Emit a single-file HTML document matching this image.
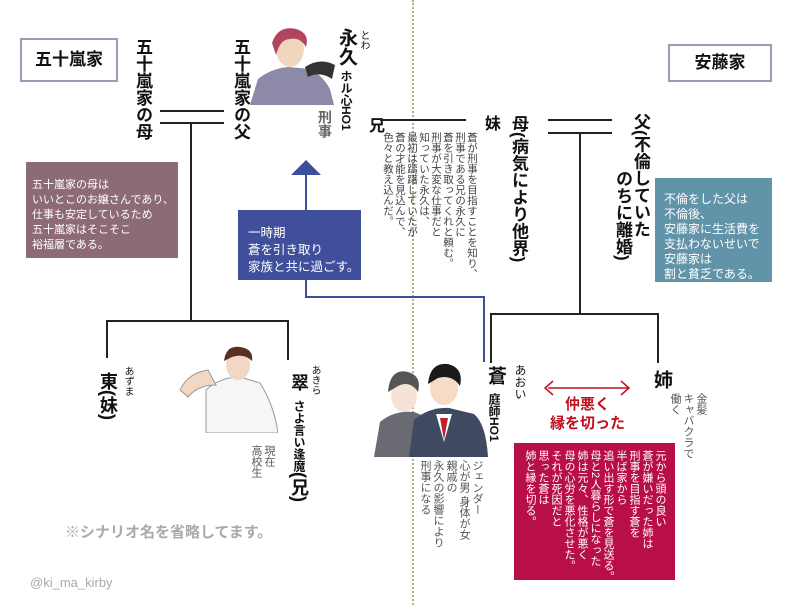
<!DOCTYPE html>
<html><head><meta charset="utf-8">
<style>
body{margin:0;width:799px;height:605px;background:#fff;position:relative;overflow:hidden;font-family:"Liberation Sans","Noto Sans CJK JP",sans-serif;}
.a{position:absolute;}
.v{position:absolute;writing-mode:vertical-rl;text-orientation:mixed;white-space:nowrap;}
.ln{position:absolute;background:#222;}
.b{font-weight:bold;color:#111;}
.box{position:absolute;color:#fff;}
</style></head><body>

<div class="a" style="left:412px;top:0;width:0;height:605px;border-left:2px dotted #b5ad86"></div>

<div class="a" style="left:20px;top:38px;width:94px;height:40px;border:2px solid #9c9ab4;font-size:17px;font-weight:bold;line-height:40px;text-align:center;color:#111">五十嵐家</div>
<div class="a" style="left:668px;top:44px;width:100px;height:34px;border:2px solid #9c9ab4;font-size:17px;font-weight:bold;line-height:34px;text-align:center;color:#111">安藤家</div>

<div class="v b" style="left:132px;top:38px;font-size:17px;line-height:20px">五十嵐家の母</div>
<div class="v b" style="left:230px;top:38px;font-size:17px;line-height:20px">五十嵐家の父</div>
<div class="ln" style="left:160px;top:110px;width:64px;height:2px"></div>
<div class="ln" style="left:160px;top:122px;width:64px;height:2px"></div>
<div class="ln" style="left:190px;top:123px;width:2px;height:198px"></div>
<div class="ln" style="left:106px;top:320px;width:183px;height:2px"></div>
<div class="ln" style="left:106px;top:320px;width:2px;height:38px"></div>
<div class="ln" style="left:287px;top:320px;width:2px;height:40px"></div>

<div class="box" style="left:26px;top:162px;width:152px;height:96px;background:#8c6b75;font-size:11px;line-height:15px;padding:16px 0 0 6px;box-sizing:border-box;white-space:nowrap">五十嵐家の母は<br>いいとこのお嬢さんであり、<br>仕事も安定しているため<br>五十嵐家はそこそこ<br>裕福層である。</div>

<svg class="a" style="left:250px;top:27px" width="85" height="78">
<path d="M0 78 L8 52 Q20 42 38 40 L60 42 Q72 48 80 62 L84 78Z" fill="#8c8aa8"/>
<ellipse cx="40" cy="22" rx="14" ry="18" fill="#f1d6bf"/>
<path d="M22 16 Q28 -2 46 2 Q60 6 56 20 Q50 10 40 12 Q30 12 26 28Z" fill="#b04560"/>
<path d="M55 40 Q70 30 85 38 L82 52 Q70 44 58 50Z" fill="#333"/>
</svg>
<div class="v b" style="left:336px;top:28px;font-size:19px;line-height:20px">永久</div>
<div class="v" style="left:356px;top:30px;font-size:10px;color:#111">とわ</div>
<div class="v" style="left:338px;top:70px;font-size:12px;font-weight:bold;color:#111">ホル心HO1</div>
<div class="v" style="left:315px;top:110px;font-size:14px;font-weight:bold;color:#666">刑事</div>

<div class="v b" style="left:362px;top:117px;font-size:16px">兄</div>
<div class="ln" style="left:380px;top:119px;width:86px;height:2px"></div>
<div class="v b" style="left:478px;top:115px;font-size:16px">妹</div>
<div class="v" style="left:382px;top:132px;font-size:10.5px;line-height:12px;color:#444">蒼が刑事を目指すことを知り、<br>刑事である兄の永久に<br>蒼を引き取ってくれと頼む。<br>刑事が大変な仕事だと<br>知っていた永久は、<br>最初は躊躇していたが<br>蒼の才能を見込んで、<br>色々と教え込んだ。</div>

<svg class="a" style="left:0;top:0" width="799" height="605">
<polygon points="306,160 291,175 321,175" fill="#3c4d99"/>
<line x1="306" y1="175" x2="306" y2="210" stroke="#3c4d99" stroke-width="2"/>
<polyline points="306,280 306,297 484,297 484,362" fill="none" stroke="#3c4d99" stroke-width="2"/>
<line x1="548" y1="388" x2="628" y2="388" stroke="#c0101e" stroke-width="1.5"/>
<polyline points="553,381 545,388 553,395" fill="none" stroke="#c0101e" stroke-width="1.5"/>
<polyline points="621,381 629,388 621,395" fill="none" stroke="#c0101e" stroke-width="1.5"/>
</svg>
<div class="box" style="left:238px;top:210px;width:123px;height:70px;background:#3f4f9b;font-size:12.5px;line-height:17px;padding:15px 0 0 10px;box-sizing:border-box">一時期<br>蒼を引き取り<br>家族と共に過ごす。</div>

<div class="v b" style="left:508px;top:115px;font-size:17px;line-height:20px">母(病気により他界)</div>
<div class="ln" style="left:548px;top:119px;width:64px;height:2px"></div>
<div class="ln" style="left:548px;top:132px;width:64px;height:2px"></div>
<div class="ln" style="left:579px;top:133px;width:2px;height:181px"></div>
<div class="ln" style="left:490px;top:313px;width:169px;height:2px"></div>
<div class="ln" style="left:490px;top:313px;width:2px;height:50px"></div>
<div class="ln" style="left:657px;top:313px;width:2px;height:50px"></div>
<div class="v b" style="left:630px;top:113px;font-size:17px;line-height:20px">父(不倫していた</div>
<div class="v b" style="left:612px;top:170px;font-size:17px;line-height:20px">のちに離婚)</div>

<div class="box" style="left:655px;top:178px;width:117px;height:104px;background:#6294a9;font-size:12px;line-height:15px;padding:14px 0 0 9px;box-sizing:border-box">不倫をした父は<br>不倫後、<br>安藤家に生活費を<br>支払わないせいで<br>安藤家は<br>割と貧乏である。</div>

<svg class="a" style="left:374px;top:362px" width="115" height="95">
<path d="M0 95 L6 60 Q20 48 40 50 L60 58 L64 95Z" fill="#6a6a72"/>
<ellipse cx="30" cy="34" rx="13" ry="16" fill="#f4e3d6"/>
<path d="M14 30 Q16 6 34 10 Q48 14 44 30 Q36 18 24 24Z" fill="#555"/>
<path d="M35 95 L40 58 Q55 45 75 46 L100 52 Q112 62 114 95Z" fill="#3f4a60"/>
<path d="M62 52 L70 80 L78 52Z" fill="#fff"/>
<path d="M66 56 L70 78 L74 56Z" fill="#c0202a"/>
<ellipse cx="70" cy="26" rx="14" ry="17" fill="#f6dcc6"/>
<path d="M54 22 Q56 0 74 2 Q90 6 86 24 Q78 12 64 16Z" fill="#1a1a1a"/>
</svg>
<div class="v b" style="left:482px;top:366px;font-size:19px">蒼</div>
<div class="v" style="left:486px;top:393px;font-size:12px;font-weight:bold;color:#111">庭師HO1</div>
<div class="v" style="left:512px;top:364px;font-size:12px;color:#111">あおい</div>
<div class="v" style="left:418px;top:460px;font-size:11px;line-height:13px;color:#555">ジェンダー<br>心が男 身体が女<br>親戚の<br>永久の影響により<br>刑事になる</div>

<div class="a" style="left:540px;top:395px;width:95px;text-align:center;color:#c0101e;font-size:15px;font-weight:bold;line-height:19px">仲悪く<br>縁を切った</div>

<div class="v b" style="left:648px;top:370px;font-size:19px">姉</div>
<div class="v" style="left:668px;top:393px;font-size:11px;line-height:13px;color:#555">金髪<br>キャバクラで<br>働く</div>

<div class="box" style="left:514px;top:443px;width:161px;height:137px;background:#b90f47"></div>
<div class="v" style="left:525px;top:450px;width:141px;font-size:11px;line-height:13px;color:#fff">元から頭の良い<br>蒼が嫌いだった姉は<br>刑事を目指す蒼を<br>半ば家から<br>追い出す形で蒼を見送る。<br>母と2人暮らしになった<br>姉は元々、性格が悪く<br>母の心労を悪化させた。<br>それが死因だと<br>思った蒼は<br>姉と縁を切る。</div>

<div class="v b" style="left:98px;top:372px;font-size:18px;line-height:20px">東(妹)</div>
<div class="v" style="left:120px;top:366px;font-size:10px;color:#111">あずま</div>

<svg class="a" style="left:178px;top:345px" width="100" height="88">
<path d="M28 88 L28 45 Q42 32 62 32 L82 38 Q96 60 100 88Z" fill="#f6f6f6" stroke="#999"/>
<path d="M2 45 Q10 28 30 25 L38 40 Q20 40 10 52Z" fill="#f2d8c2" stroke="#999"/>
<ellipse cx="60" cy="20" rx="12" ry="15" fill="#f2d8c2"/>
<path d="M46 16 Q48 0 62 2 Q76 4 74 16 Q66 8 54 12Z" fill="#5a2f25"/>
</svg>
<div class="v b" style="left:286px;top:373px;font-size:18px">翠</div>
<div class="v" style="left:307px;top:365px;font-size:10px;color:#111">あきら</div>
<div class="v" style="left:286px;top:400px;font-size:12px;font-weight:bold;color:#111">さよ言い逢魔<span style="font-size:18px">(兄)</span></div>
<div class="v" style="left:249px;top:445px;font-size:11px;line-height:13px;color:#555">現在<br>高校生</div>

<div class="a" style="left:65px;top:521px;font-size:15px;color:#aaa;font-weight:bold">※シナリオ名を省略してます。</div>
<div class="a" style="left:30px;top:575px;font-size:13px;color:#aaa">@ki_ma_kirby</div>

</body></html>
